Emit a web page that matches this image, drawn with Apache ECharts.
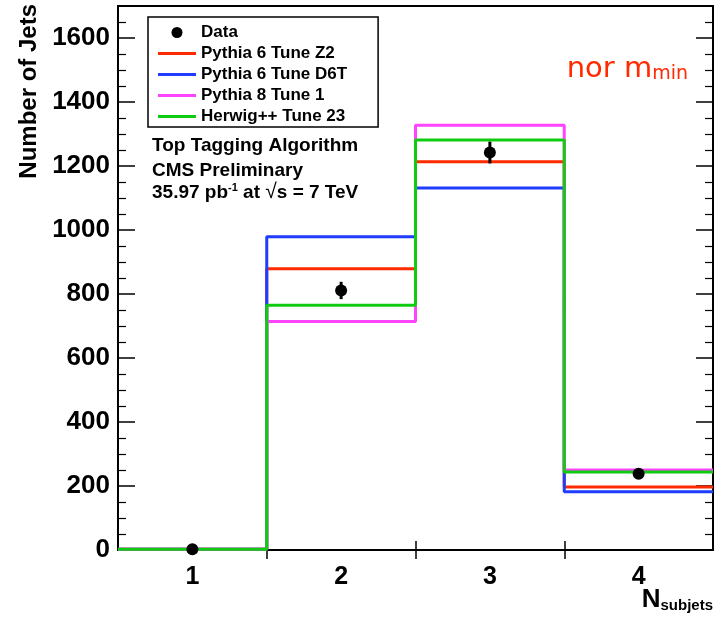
<!DOCTYPE html>
<html>
<head>
<meta charset="utf-8">
<script src="https://cdn.jsdelivr.net/npm/echarts@6/dist/echarts.min.js"></script>
<style>
  html, body { margin: 0; padding: 0; background: #fff; }
  #main { width: 715px; height: 618px; }
</style>
</head>
<body>
<div id="main"></div>
<script>
// bin edges (lower edge of each N_subjets bin, plus the last upper edge)
var binEdges = [0.5, 1.5, 2.5, 3.5, 4.5];
var binCenters = [1, 2, 3, 4];

// histogram contents
var pythia6Z2 = [2, 879, 1213, 197];
var pythia6D6T = [2, 979, 1131, 182];
var pythia8T1 = [2, 714, 1327, 250];
var herwigT23 = [2, 765, 1281, 244];

var dataVals = [2, 811, 1242, 238];
var dataErrs = [1, 27, 34, 15];

var yTicks = [0, 200, 400, 600, 800, 1000, 1200, 1400, 1600];

var FONT = '"Liberation Sans", Arial, Helvetica, sans-serif';
var LINE_ICON = 'path://M0,0H38V3H0Z';

function stepData (vals) {
  var out = [];
  for (var i = 0; i < vals.length; i++) out.push([binEdges[i], vals[i]]);
  out.push([binEdges[vals.length], vals[vals.length - 1]]);
  return out;
}

function histSeries (name, vals, color) {
  return {
    name: name,
    type: 'line',
    step: 'end',
    symbol: 'none',
    data: stepData(vals),
    lineStyle: { color: color, width: 3 },
    itemStyle: { color: color },
    z: 3
  };
}

var chart = echarts.init(document.getElementById('main'));

var option = {
  animation: false,
  backgroundColor: '#fff',
  grid: {
    left: 118, right: 2, top: 6, bottom: 68,
    show: true, borderColor: '#000', borderWidth: 2
  },
  legend: {
    left: 148, top: 17,
    orient: 'vertical',
    backgroundColor: '#fff',
    borderColor: '#000', borderWidth: 1.5,
    padding: [7, 31, 2, 10],
    itemWidth: 38, itemHeight: 11, itemGap: 4,
    textStyle: { fontFamily: FONT, fontWeight: 'bold', fontSize: 17, lineHeight: 16, color: '#000' },
    data: [
      { name: 'Data', icon: 'circle' },
      { name: 'Pythia 6 Tune Z2', icon: LINE_ICON },
      { name: 'Pythia 6 Tune D6T', icon: LINE_ICON },
      { name: 'Pythia 8 Tune 1', icon: LINE_ICON },
      { name: 'Herwig++ Tune 23', icon: LINE_ICON }
    ]
  },
  xAxis: [
    {
      type: 'value', min: 0.5, max: 4.5, position: 'bottom',
      axisLine: { lineStyle: { color: '#000', width: 2 } },
      axisTick: { inside: true, length: 9, customValues: [1.5, 2.5, 3.5], lineStyle: { color: '#000', width: 1.5 } },
      axisLabel: {
        customValues: binCenters, margin: 15,
        fontFamily: FONT, fontWeight: 'bold', fontSize: 25, color: '#000'
      },
      splitLine: { show: false }
    },
    {
      type: 'value', min: 0.5, max: 4.5, position: 'bottom', offset: 0,
      axisLine: { show: false },
      axisTick: { inside: false, length: 9, customValues: [1.5, 2.5, 3.5], lineStyle: { color: '#000', width: 1.5 } },
      axisLabel: { show: false },
      splitLine: { show: false }
    }
  ],
  yAxis: [
    {
      type: 'value', min: 0, max: 1700, interval: 200, position: 'left',
      axisLine: { show: true, lineStyle: { color: '#000', width: 2 } },
      axisTick: { inside: true, length: 17, lineStyle: { color: '#000', width: 1.5 } },
      minorTick: { show: true, splitNumber: 4, length: 8, lineStyle: { color: '#000', width: 1.2 } },
      axisLabel: {
        margin: 8, showMaxLabel: false,
        fontFamily: FONT, fontWeight: 'bold', fontSize: 26, color: '#000',
        formatter: function (v) { return yTicks.indexOf(v) >= 0 ? String(v) : ''; }
      },
      splitLine: { show: false }
    },
    {
      type: 'value', min: 0, max: 1700, interval: 200, position: 'right',
      axisLine: { show: true, lineStyle: { color: '#000', width: 2 } },
      axisTick: { inside: true, length: 17, lineStyle: { color: '#000', width: 1.5 } },
      minorTick: { show: true, splitNumber: 4, length: 8, lineStyle: { color: '#000', width: 1.2 } },
      axisLabel: { show: false },
      splitLine: { show: false }
    }
  ],
  series: [
    histSeries('Pythia 6 Tune Z2', pythia6Z2, '#ff2a00'),
    histSeries('Pythia 6 Tune D6T', pythia6D6T, '#1f3cff'),
    histSeries('Pythia 8 Tune 1', pythia8T1, '#ff44ff'),
    histSeries('Herwig++ Tune 23', herwigT23, '#10cc10'),
    {
      name: 'DataErr',
      type: 'custom',
      z: 5,
      data: binCenters.map(function (c, i) { return [c, dataVals[i] - dataErrs[i], dataVals[i] + dataErrs[i]]; }),
      renderItem: function (params, api) {
        var lo = api.coord([api.value(0), api.value(1)]);
        var hi = api.coord([api.value(0), api.value(2)]);
        return {
          type: 'line',
          shape: { x1: lo[0], y1: lo[1], x2: hi[0], y2: hi[1] },
          style: { stroke: '#000', lineWidth: 3 }
        };
      }
    },
    {
      name: 'Data',
      type: 'scatter',
      symbol: 'circle',
      symbolSize: 12,
      z: 6,
      itemStyle: { color: '#000', opacity: 1 },
      data: binCenters.map(function (c, i) { return [c, dataVals[i]]; })
    }
  ],
  graphic: [
    {
      type: 'text', x: 17, y: 4, rotation: Math.PI / 2,
      style: {
        text: 'Number of Jets', align: 'right', verticalAlign: 'top',
        font: 'bold 24px ' + FONT, fill: '#000'
      }
    },
    {
      type: 'text', x: 713, y: 613,
      style: {
        text: '{a|N}{b|subjets}', align: 'right', verticalAlign: 'bottom',
        rich: {
          a: { fontFamily: FONT, fontWeight: 'bold', fontSize: 26, fill: '#000', verticalAlign: 'bottom' },
          b: { fontFamily: FONT, fontWeight: 'bold', fontSize: 15, fill: '#000', verticalAlign: 'bottom' }
        }
      }
    },
    {
      type: 'text', x: 152, y: 133,
      style: {
        text: 'Top Tagging Algorithm\nCMS Preliminary',
        font: 'bold 19px ' + FONT, lineHeight: 25, fill: '#000'
      }
    },
    {
      type: 'text', x: 152, y: 182,
      style: {
        text: '{n|35.97 pb}{s|-1}{n| at }{r|√}{o|s}{n| = 7 TeV}',
        rich: {
          n: { fontFamily: FONT, fontWeight: 'bold', fontSize: 19, fill: '#000' },
          s: { fontFamily: FONT, fontWeight: 'bold', fontSize: 11, fill: '#000', verticalAlign: 'top', padding: [0, 0, 8, 0] },
          r: { fontFamily: FONT, fontSize: 21, fill: '#000' },
          o: { fontFamily: FONT, fontWeight: 'bold', fontSize: 19, fill: '#000' }
        }
      }
    },
    {
      type: 'text', x: 688, y: 84,
      style: {
        text: '{a|nor m}{b|min}', align: 'right', verticalAlign: 'bottom',
        rich: {
          a: { fontFamily: '"DejaVu Sans", sans-serif', fontSize: 29, fill: '#ff2a00', verticalAlign: 'bottom' },
          b: { fontFamily: '"DejaVu Sans", sans-serif', fontSize: 19, fill: '#ff2a00', verticalAlign: 'bottom' }
        }
      }
    }
  ]
};

chart.setOption(option);
</script>
</body>
</html>
